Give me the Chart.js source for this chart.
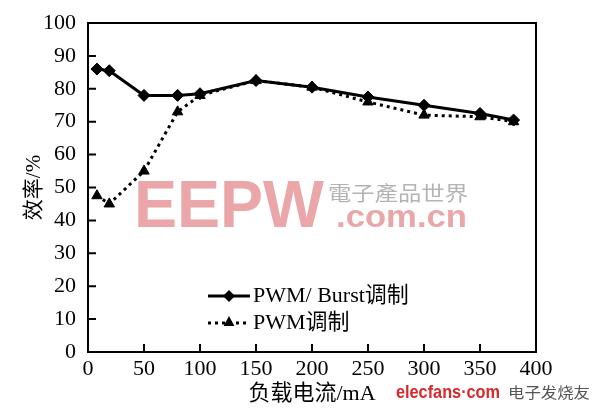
<!DOCTYPE html>
<html>
<head>
<meta charset="utf-8">
<script src="https://cdn.jsdelivr.net/npm/chart.js@4/dist/chart.umd.min.js"></script>
<style>
  html, body { margin: 0; padding: 0; background: #ffffff; }
  #wrap { width: 600px; height: 412px; }
</style>
</head>
<body>
<div id="wrap"><canvas id="c" width="600" height="412"></canvas></div>
<script>
// ---- data ----
const loadCurrent = [8, 19, 50, 80, 100, 150, 200, 250, 300, 350, 380];           // mA
const burstEfficiency = [86, 85.5, 78, 78, 78.5, 82.5, 80.5, 77.5, 75, 72.5, 70.5]; // PWM/Burst
const pwmEfficiency = [47.5, 45, 55, 73, 78, 82.5, 80.5, 76, 72, 71.5, 70];         // PWM
const seriesLabels = ['PWM/ Burst调制', 'PWM调制'];
const xTickValues = [0, 50, 100, 150, 200, 250, 300, 350, 400];
const yTickValues = [0, 10, 20, 30, 40, 50, 60, 70, 80, 90, 100];
const xTitle = '负载电流/mA';
const yTitle = '效率/%';

const SERIF = "'Liberation Serif', 'Noto Sans CJK SC', serif";

function pts(xs, ys) { return xs.map((x, i) => ({ x: x, y: ys[i] })); }

function drawMarker(ctx, style, x, y, r) {
  ctx.beginPath();
  if (style === 'rectRot') {
    ctx.moveTo(x, y - r); ctx.lineTo(x + r, y); ctx.lineTo(x, y + r); ctx.lineTo(x - r, y);
  } else {
    ctx.moveTo(x, y - r); ctx.lineTo(x + r * 0.9, y + r * 0.65); ctx.lineTo(x - r * 0.9, y + r * 0.65);
  }
  ctx.closePath();
  ctx.fill();
}

const bgPlugin = {
  id: 'bg',
  beforeDraw(chart) {
    const ctx = chart.ctx;
    ctx.save();
    ctx.fillStyle = '#ffffff';
    ctx.fillRect(0, 0, chart.width, chart.height);
    ctx.restore();
  }
};

function fitText(ctx, text, x, yBase, width) {
  const w = ctx.measureText(text).width;
  ctx.save();
  ctx.translate(x, yBase);
  ctx.scale(width / w, 1);
  ctx.fillText(text, 0, 0);
  ctx.restore();
}

const watermarkPlugin = {
  id: 'watermark',
  beforeDatasetsDraw(chart) {
    const ctx = chart.ctx;
    ctx.save();
    ctx.textBaseline = 'alphabetic';
    ctx.textAlign = 'left';
    ctx.fillStyle = '#eaa6a9';
    ctx.font = "bold 66px 'Liberation Sans', Arial, sans-serif";
    fitText(ctx, 'EEPW', 134, 227, 190);
    ctx.fillStyle = '#b4b4b4';
    ctx.font = "20px 'Noto Sans CJK TC', sans-serif";
    fitText(ctx, '電子產品世界', 328, 201, 140);
    ctx.fillStyle = '#eaa6a9';
    ctx.font = "bold 32px 'Liberation Sans', Arial, sans-serif";
    fitText(ctx, '.com.cn', 336, 227, 131);
    ctx.restore();
  },
  afterDraw(chart) {
    const ctx = chart.ctx;
    ctx.save();
    ctx.textBaseline = 'alphabetic';
    ctx.textAlign = 'left';
    ctx.fillStyle = '#d8282c';
    ctx.font = "bold 19px 'Liberation Sans', Arial, sans-serif";
    fitText(ctx, 'elecfans·com', 396, 398, 104);
    ctx.fillStyle = '#555555';
    ctx.font = "15px 'Noto Sans CJK SC', sans-serif";
    fitText(ctx, '电子发烧友', 508, 398, 82);
    ctx.restore();
  }
};

const framePlugin = {
  id: 'frame',
  afterDraw(chart) {
    const ctx = chart.ctx;
    const a = chart.chartArea;
    const xs = chart.scales.x, ys = chart.scales.y;
    ctx.save();
    ctx.strokeStyle = '#000';
    ctx.lineWidth = 2;
    ctx.beginPath();
    ctx.moveTo(a.left, a.top); ctx.lineTo(a.right, a.top); ctx.lineTo(a.right, a.bottom);
    ctx.stroke();
    ctx.lineWidth = 2;
    ctx.beginPath();
    xTickValues.slice(1, -1).forEach(v => {
      const px = xs.getPixelForValue(v);
      ctx.moveTo(px, a.bottom); ctx.lineTo(px, a.bottom - 8);
    });
    yTickValues.slice(1, -1).forEach(v => {
      const py = ys.getPixelForValue(v);
      ctx.moveTo(a.left, py); ctx.lineTo(a.left + 8, py);
    });
    ctx.stroke();

    // legend inside the plot area
    const x0 = a.left + 120, x1 = a.left + 162, xm = (x0 + x1) / 2;
    const rows = [a.bottom - 56, a.bottom - 29];
    chart.data.datasets.forEach((ds, i) => {
      const y = rows[i];
      ctx.strokeStyle = ds.borderColor;
      ctx.lineWidth = ds.borderWidth;
      ctx.setLineDash(ds.borderDash || []);
      ctx.beginPath(); ctx.moveTo(x0, y); ctx.lineTo(x1, y); ctx.stroke();
      ctx.setLineDash([]);
      ctx.fillStyle = ds.pointBackgroundColor;
      drawMarker(ctx, ds.pointStyle, xm, y - (ds.pointStyle === 'triangle' ? 1 : 0), ds.pointRadius);
      ctx.fillStyle = '#000';
      ctx.font = '22px ' + SERIF;
      ctx.textBaseline = 'middle';
      ctx.textAlign = 'left';
      ctx.fillText(ds.label, x1 + 3, y);
    });
    ctx.restore();
  }
};

new Chart(document.getElementById('c'), {
  type: 'line',
  data: {
    datasets: [
      {
        label: seriesLabels[0],
        data: pts(loadCurrent, burstEfficiency),
        borderColor: '#000',
        backgroundColor: '#000',
        pointBackgroundColor: '#000',
        pointBorderColor: '#000',
        borderWidth: 3,
        pointStyle: 'rectRot',
        pointRadius: 6,
        pointBorderWidth: 1,
        tension: 0,
        order: 0
      },
      {
        label: seriesLabels[1],
        data: pts(loadCurrent, pwmEfficiency),
        borderColor: '#000',
        backgroundColor: '#000',
        pointBackgroundColor: '#000',
        pointBorderColor: '#000',
        borderWidth: 3,
        borderDash: [3, 4],
        pointStyle: 'triangle',
        pointRadius: 6,
        pointBorderWidth: 1,
        tension: 0,
        order: 1
      }
    ]
  },
  options: {
    responsive: false,
    animation: false,
    layout: { padding: { top: 23, right: 64, left: 0, bottom: 0 } },
    plugins: { legend: { display: false }, tooltip: { enabled: false } },
    scales: {
      x: {
        type: 'linear',
        min: 0, max: 400,
        afterBuildTicks(scale) { scale.ticks = xTickValues.map(v => ({ value: v })); },
        afterFit(scale) { scale.height = 60; },
        grid: { display: false },
        border: { display: true, color: '#000', width: 2 },
        ticks: { color: '#000', font: { family: SERIF, size: 22 }, padding: -4, maxRotation: 0 },
        title: { display: true, text: xTitle, color: '#000', font: { family: SERIF, size: 22 }, padding: { top: 0, bottom: 5 } }
      },
      y: {
        type: 'linear',
        min: 0, max: 100,
        afterBuildTicks(scale) { scale.ticks = yTickValues.map(v => ({ value: v })); },
        afterFit(scale) { scale.width = 88; },
        grid: { display: false },
        border: { display: true, color: '#000', width: 2 },
        ticks: { color: '#000', font: { family: SERIF, size: 22 }, padding: 4 },
        title: { display: true, text: yTitle, color: '#000', font: { family: SERIF, size: 21 }, padding: { top: 22, bottom: 0 } }
      }
    }
  },
  plugins: [bgPlugin, watermarkPlugin, framePlugin]
});
</script>
</body>
</html>
